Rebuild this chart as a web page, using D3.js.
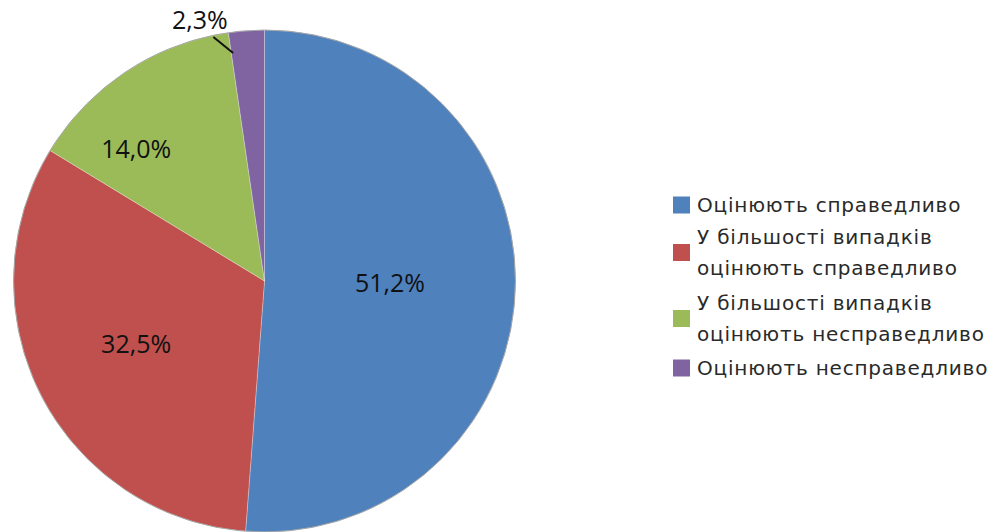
<!DOCTYPE html>
<html><head><meta charset="utf-8">
<script src="https://cdn.jsdelivr.net/npm/d3@7"></script>
<style>html,body{margin:0;padding:0;background:#fff;}svg{display:block;}</style>
</head><body>
<svg id="chart" width="1001" height="532"></svg>
<script>
const categories = ["Оцінюють справедливо", "У більшості випадків оцінюють справедливо", "У більшості випадків оцінюють несправедливо", "Оцінюють несправедливо"];
const legendLines = [["Оцінюють справедливо"], ["У більшості випадків", "оцінюють справедливо"], ["У більшості випадків", "оцінюють несправедливо"], ["Оцінюють несправедливо"]];
const values = [51.2, 32.5, 14.0, 2.3];
const valueLabels = ["51,2%", "32,5%", "14,0%", "2,3%"];
const colors = ["#4F81BD", "#C0504D", "#9BBB59", "#8064A2"];

const svg = d3.select("#chart");
const cx = 264.5, cy = 281, R = 251;
const g = svg.append("g").attr("transform", `translate(${cx},${cy})`);

const pie = d3.pie().sort(null).value(d => d);
const arcs = pie(values);
const arc = d3.arc().innerRadius(0).outerRadius(R);

g.selectAll("path.slice").data(arcs).enter().append("path")
  .attr("class", "slice")
  .attr("d", arc)
  .attr("fill", (d, i) => colors[i])
  .attr("stroke", "rgba(255,255,255,0.35)")
  .attr("stroke-width", 0.8);
g.append("circle").attr("r", R).attr("fill", "none").attr("stroke", "#a6a6a6").attr("stroke-width", 1);

function polar(angle, r) { return [r * Math.sin(angle), -r * Math.cos(angle)]; }
const deg = Math.PI / 180;
// label placement style: [angle offset (deg), radius fraction]
const labelStyle = [[-1.3, 0.50], [1.0, 0.57], [-10.7, 0.733], [-9.8, 1.07]];

arcs.forEach((a, i) => {
  const mid = (a.startAngle + a.endAngle) / 2;
  const [x, y] = polar(mid + labelStyle[i][0] * deg, labelStyle[i][1] * R);
  g.append("text").attr("x", x).attr("y", y).attr("dy", "0.35em")
    .attr("text-anchor", "middle")
    .style("font-family", "'Open Sans', sans-serif").style("font-size", "25px").attr("fill", "#111")
    .text(valueLabels[i]);
  if (i === 3) {
    const p1 = polar(mid - 3.7 * deg, 0.917 * R), p2 = polar(mid - 7.7 * deg, 0.993 * R);
    g.append("line").attr("x1", p1[0]).attr("y1", p1[1]).attr("x2", p2[0]).attr("y2", p2[1])
      .attr("stroke", "#111").attr("stroke-width", 2);
  }
});

// legend
const lg = svg.append("g").attr("transform", "translate(673,0)");
const baselines = [[212], [244, 275], [310, 341], [375]];
legendLines.forEach((lines, i) => {
  const bl = baselines[i];
  const midY = (bl[0] + bl[bl.length - 1]) / 2 - 7;
  lg.append("rect").attr("x", 0).attr("y", midY - 8.5).attr("width", 17).attr("height", 17)
    .attr("fill", colors[i]);
  lines.forEach((t, j) => {
    lg.append("text").attr("x", 24).attr("y", bl[j])
      .style("font-family", "'DejaVu Sans', sans-serif").style("font-size", "20px")
      .style("letter-spacing", "0.8px").attr("fill", "#2a2a2a")
      .text(t);
  });
});
</script>
</body></html>
